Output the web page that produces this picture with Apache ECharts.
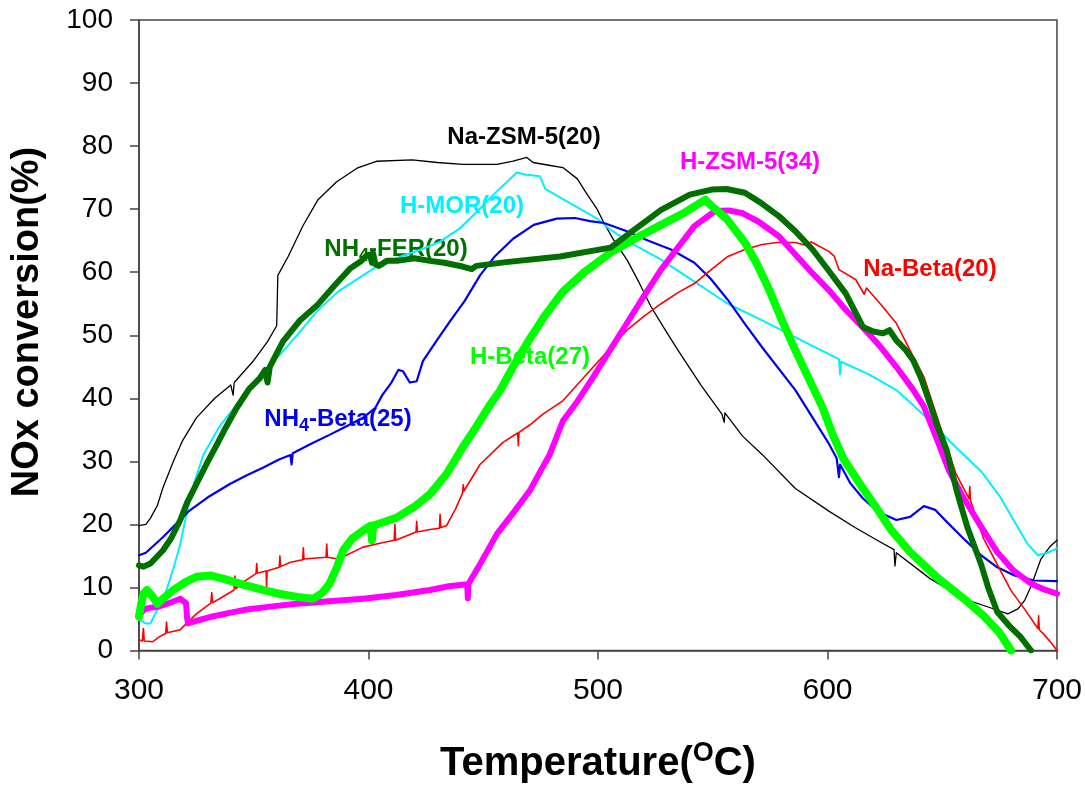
<!DOCTYPE html>
<html lang="en">
<head>
    <meta charset="UTF-8">
    <title>NOx conversion</title>
    <script src="https://cdn.jsdelivr.net/npm/echarts@6/dist/echarts.min.js"></script>
</head>
<body style="margin:0;background:#fff">
  <div id="main" style="width:1085px;height:789px;"></div>
  <script type="text/javascript">
    // temperature (C) / conversion (%) pairs
    var naZsm5 = [[300,19.8],[303,20],[305,21],[308,23],[310.5,25.9],[315,30],[319,33.3],[325,36.9],[333,40],[340,42.1],[341,40.5],[341.5,42.5],[350,46],[356,49],[360,51.5],[360.5,59.5],[365,62.5],[371.5,67.4],[378,71.5],[386,74.3],[395,76.5],[403.7,77.6],[419,77.8],[430,77.4],[441,77.1],[456,77.1],[463,77.6],[469,78.2],[471.7,77.4],[478,77],[484.7,76.6],[491,74.8],[495,72.5],[499.6,70],[502.6,67.8],[507,65],[512.6,62],[518,58.3],[523,54.6],[529,51],[534.9,47.6],[545,42],[554,37.5],[555,36.2],[555.3,37.7],[563,34],[571.5,31.1],[586,25.7],[600.6,22.1],[612,19.5],[623,17.2],[629,16],[629.4,13.4],[630,15.5],[644.7,11.4],[659.5,8.2],[670,6.9],[678.6,5.8],[683,6.6],[686,8],[688.7,10.2],[693,14.5],[697,16.5],[700,17.5]];
    var hMor = [[300,4.9],[303,4.3],[305,4.3],[308,6.5],[312,9.6],[315,13],[318,16.9],[321,22.2],[324,26.5],[328,31],[335,35.5],[342.6,39],[345,40],[352,43.5],[361.4,46.9],[370,50.5],[377.5,53.8],[387,57],[397.6,59.5],[405,61.2],[415,62.6],[423,63.6],[431,64.8],[440,67],[447,69.5],[455,72.5],[464.7,75.8],[468,75.5],[474.7,75.2],[477,73.2],[484.7,71.6],[492,70.1],[499.6,68.5],[505.5,66.7],[516,64.3],[527.5,62],[542,58.5],[556.6,55],[568,53],[580,50.8],[594,48.2],[605,46.2],[605.5,43.8],[606,45.8],[618,43.8],[630,41.3],[637,39],[644.7,36.4],[656,32.2],[661,30.5],[667,28.4],[675,24.5],[681.7,20.3],[687,17],[691.7,15.1],[696,15.5],[700,16.2]];
    var nh4Beta = [[300,15.1],[303,15.5],[310.5,18],[316,20],[322,22.2],[330,24.3],[339.6,26.4],[347,27.8],[354,29],[361,30.3],[366,31],[366.5,29.5],[367,31.3],[375,32.8],[383,34.2],[390,35.5],[397.6,36.9],[403,38.5],[406,40.5],[410,42.5],[413,44.5],[415,44.3],[418,42.5],[421,42.7],[423.7,45.9],[430,49.3],[435.5,52.2],[442,55.5],[448.6,59.5],[455,62.5],[463,65.3],[472,67.5],[482,68.5],[490,68.6],[496.5,68.1],[502.6,67.8],[512.6,66.5],[522,65],[531.8,63.6],[542,61.5],[549,59],[556.6,55.6],[564,51.8],[571.5,48.1],[586,41.3],[600.6,32.8],[604,30.5],[605,27.5],[605.5,29.5],[610,26.5],[615.5,24.1],[622,22],[630,20.7],[636,21.2],[642,22.9],[647,22.3],[652,20.4],[660,17.5],[667,15.1],[674,13.2],[681.5,11.9],[690,11.1],[700,11]];
    var naBeta = [[300,1.7],[301.5,1.5],[301.9,3.5],[302.3,1.5],[306,1.4],[309,2.2],[311.6,2.7],[312,4.5],[312.4,2.8],[318,3.3],[325,5.8],[331.3,7.5],[331.7,9.2],[332.1,7.6],[336,8.4],[341.4,9.6],[341.8,11.8],[342.2,9.8],[346,11],[351,12.2],[351.3,13.8],[351.6,12.3],[355.4,12.6],[355.6,9.8],[355.8,12.6],[361.1,13.2],[361.4,15],[361.7,13.3],[366,14],[371.3,14.4],[371.6,16.3],[371.9,14.5],[381.5,14.8],[381.8,16.9],[382.1,14.8],[387,14.5],[397.6,16.4],[405,17],[411.2,17.5],[411.5,20],[411.8,17.5],[420.7,18.8],[421,20.5],[421.3,18.8],[426.8,19.2],[430.9,19.4],[431.2,21.6],[431.5,19.5],[434,19.8],[438,22.5],[441,25],[441.3,26.3],[441.6,25.3],[448.6,29.5],[458.6,33],[465,34.5],[465.3,32.5],[465.6,34.6],[470.4,35.8],[476,37.5],[484.7,39.6],[498,45],[505,47.8],[512.6,50.8],[520,53],[527.5,55],[535,56.8],[542,58.2],[550,60.6],[556.6,62.5],[564,63.6],[571.5,64.4],[578,64.7],[586,64.7],[590,64.3],[593,64.8],[600.6,63.3],[603,62.5],[605,60.4],[612.4,58.8],[616,56.5],[617,57.5],[623,55],[630,51.9],[636,47.6],[642,43.4],[651,33.5],[656,28],[661.7,24.1],[662,26],[662.3,23.8],[668,17.8],[675.6,12.5],[680,9.5],[685.8,6.6],[691.7,3.5],[692,5.5],[692.3,3.3],[694.7,2.4],[698,1],[700,0]];
    var hZsm5 = [[300,5.4],[302,6.5],[305,6.8],[308,6.9],[313,7.5],[318,8.2],[320.5,7.5],[321,5],[321.5,4.3],[326,4.8],[332,5.4],[340,6],[347,6.5],[358,7],[368.8,7.4],[383,7.8],[397.6,8.2],[412,8.8],[426.8,9.6],[435,10.2],[443,10.5],[443.3,8.3],[443.6,10.6],[448,13.3],[456,18.5],[463,21.8],[470.4,25.4],[475,28.5],[479,31.1],[484.7,36.4],[491,39.5],[498,43.4],[505,47.5],[512.6,51.9],[520,56.2],[527.5,60.4],[535,64],[542,67.3],[551,69.7],[557,69.8],[562.7,69.4],[570,68],[578.8,65.7],[586,62.8],[593.5,59.8],[601,57],[608,54],[615.5,51.2],[623,48.2],[630,45],[637.4,41.3],[642,38.7],[647.7,33.5],[653,28.5],[659.5,24.1],[667,19.6],[674,15.6],[681,12.7],[688.7,10.6],[695,9.6],[700,9]];
    var hBeta = [[300,5.4],[301,7.5],[302,9],[303.5,9.6],[306,8.5],[308,7.4],[311,8.4],[315,9.6],[320,10.8],[325,11.7],[331,11.9],[336.6,11.4],[345,10.5],[354,9.6],[361,9],[368.8,8.5],[376,8.2],[380,9.2],[383,10.6],[386,13],[389,15.9],[393,17.8],[397.6,19],[401,19.8],[401.5,17.5],[402,19.8],[412.4,21.1],[420,22.8],[426.8,24.8],[434,28],[441,32.2],[447,35.5],[453,39],[457.3,41.2],[463,45],[470.4,49.5],[477,53.2],[484.7,56.9],[494,60],[505.5,63.1],[516,65.3],[527.5,67.5],[537,69.3],[546.8,71.5],[549.5,70.5],[556,68.5],[564,64.7],[569,61.5],[574.5,57.3],[580,52.5],[586,47.6],[592,43],[597.8,38.6],[602,34.5],[606.8,30.5],[614,26.5],[621.4,22.6],[628,19],[636,15.6],[648,11.5],[659.5,8.2],[668,5.5],[675,2.8],[680,0]];
    var nh4Fer = [[300,13.5],[302,13.3],[305,13.8],[310.5,15.9],[314,17.8],[318,20.7],[321,23.5],[325,26.4],[330,30],[334,32.7],[338,35.5],[342.6,38.5],[348,41.5],[352.7,43.2],[355,44.5],[356,42.5],[357,45],[362.7,49],[370,52.3],[377.5,54.7],[385,57.8],[392,60.6],[397,61.8],[399,62.6],[400.6,62.8],[401.5,61.5],[402,63],[403,61.3],[404.5,61],[408,61.8],[412.4,61.8],[420,62.2],[426.8,61.8],[433,61.5],[441,60.9],[445,60.5],[447,61],[460,61.6],[483.4,62.5],[505.5,63.9],[515,66.5],[527.5,69.9],[540,72.3],[549.5,73.1],[556,73.2],[564,72.6],[571,71],[578.8,68.9],[586,66.5],[593.5,63.6],[600,60.5],[608,56.6],[615.5,51.3],[620,50.6],[624.2,50.3],[627,50.8],[630,49.2],[634,47.7],[637.4,46],[641,43],[644.7,39.1],[648,35.5],[652,31.7],[656.4,25.2],[661,19.5],[667,13.6],[670,10],[674,6.1],[679,4],[684,2.2],[688.7,0]];

    var xTicks = [300, 400, 500, 600, 700];
    var yTicks = [0, 10, 20, 30, 40, 50, 60, 70, 80, 90, 100];

    var font = 'Arial, "Liberation Sans", sans-serif';

    function line(name, data, color, width) {
        return {
            name: name, type: 'line', data: data, symbol: 'none',
            lineStyle: {color: color, width: width, join: 'round', cap: 'round'},
            silent: true, animation: false
        };
    }

    // series labels placed next to their curves
    function tag(text, x, y, color) {
        return {
            type: 'text', x: x, y: y, silent: true,
            style: {
                text: text, fill: color, font: 'bold 24px ' + font,
                align: 'center', verticalAlign: 'middle',
                rich: {
                    t: {fill: color, font: 'bold 24px ' + font},
                    sub: {fill: color, font: 'bold 18px ' + font, padding: [14, 0, 0, 0]}
                }
            }
        };
    }

    var myChart = echarts.init(document.getElementById('main'));
    var option = {
        backgroundColor: '#fff',
        animation: false,
        grid: {left: 139, right: 27, top: 20, bottom: 135, show: true, borderColor: '#444', borderWidth: 1.5},
        xAxis: {
            type: 'value', min: xTicks[0], max: xTicks[xTicks.length - 1], interval: 100,
            splitLine: {show: false},
            axisLine: {lineStyle: {color: '#444', width: 1.5}},
            axisTick: {length: 9, lineStyle: {color: '#444', width: 1.5}},
            axisLabel: {color: '#000', fontSize: 30, fontFamily: font, margin: 25},
            name: 'Temperature({sup|O}C)', nameLocation: 'middle', nameGap: 90,
            nameTextStyle: {
                color: '#000', fontSize: 40, fontWeight: 'bold', fontFamily: font,
                rich: {sup: {fontSize: 27, fontWeight: 'bold', fontFamily: font, color: '#000', padding: [0, 0, 20, 0]}}
            }
        },
        yAxis: {
            type: 'value', min: yTicks[0], max: yTicks[yTicks.length - 1], interval: 10,
            splitLine: {show: false},
            axisLine: {lineStyle: {color: '#444', width: 1.5}},
            axisTick: {length: 9, lineStyle: {color: '#444', width: 1.5}},
            axisLabel: {color: '#000', fontSize: 28, fontFamily: font, margin: 26}
        },
        series: [
            line('Na-ZSM-5(20)', naZsm5, '#000000', 1.3),
            line('H-MOR(20)', hMor, '#00f0ff', 2),
            line('NH4-Beta(25)', nh4Beta, '#0000f0', 2.2),
            line('Na-Beta(20)', naBeta, '#ff0000', 1.6),
            line('H-ZSM-5(34)', hZsm5, '#ff00ff', 6),
            line('H-Beta(27)', hBeta, '#00ff00', 8),
            line('NH4-FER(20)', nh4Fer, '#006f00', 6)
        ],
        graphic: [
            {
                type: 'text', x: 28, y: 322, rotation: Math.PI / 2, silent: true,
                style: {text: 'NOx conversion(%)', fill: '#000', font: 'bold 38px ' + font, align: 'center', verticalAlign: 'middle'}
            },
            tag('Na-ZSM-5(20)', 524, 137, '#000000'),
            tag('H-MOR(20)', 462, 206, '#00f0ff'),
            tag('{t|NH}{sub|4}{t|-FER(20)}', 396, 249, '#007000'),
            tag('H-Beta(27)', 530, 357, '#00ff00'),
            tag('{t|NH}{sub|4}{t|-Beta(25)}', 338, 419, '#0000f0'),
            tag('H-ZSM-5(34)', 750, 162, '#ff00ff'),
            tag('Na-Beta(20)', 930, 269, '#ff0000')
        ]
    };
    myChart.setOption(option);
  </script>
</body>
</html>
